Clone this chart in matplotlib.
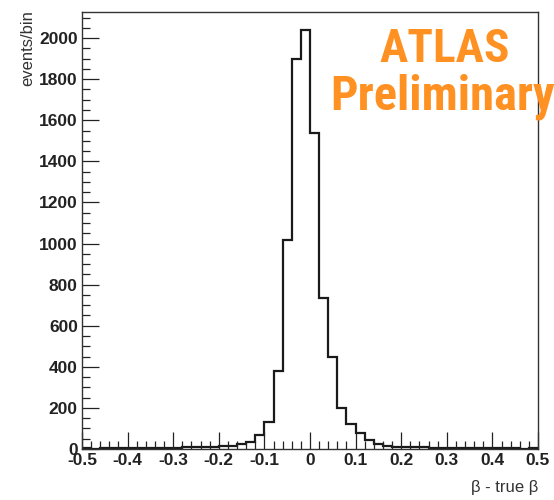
import numpy as np
import matplotlib
matplotlib.use("Agg")
import matplotlib.pyplot as plt
from matplotlib.ticker import MultipleLocator, FuncFormatter

# Residual distribution beta - true beta, 50 bins from -0.5 to 0.5
x_min, x_max, n_bins = -0.5, 0.5, 50
counts = [
    3, 2, 3, 4, 3, 5, 4, 5, 6, 7,
    6, 8, 9, 11, 10, 13, 17, 22, 34, 66,
    132, 381, 1018, 1897, 2038, 1537, 733, 450, 200, 120,
    77, 43, 25, 16, 12, 10, 8, 9, 7, 6,
    6, 5, 5, 4, 4, 3, 4, 3, 2, 3,
]
x_ticks = [-0.5, -0.4, -0.3, -0.2, -0.1, 0.0, 0.1, 0.2, 0.3, 0.4, 0.5]
x_tick_labels = ["-0.5", "-0.4", "-0.3", "-0.2", "-0.1", "0", "0.1", "0.2", "0.3", "0.4", "0.5"]
y_max = 2127

edges = np.linspace(x_min, x_max, n_bins + 1)

plt.rcParams['font.family'] = ['Liberation Sans', 'DejaVu Sans']

fig = plt.figure(figsize=(5.54, 5.00), dpi=100)
ax = fig.add_axes([82 / 554, 51 / 500, (538 - 82) / 554, (449 - 12) / 500])

ax.stairs(counts, edges, color="#1a1a1a", linewidth=1.6)

ax.set_xlim(x_min, x_max)
ax.set_ylim(0, y_max)

ax.set_xticks(x_ticks)
ax.set_xticklabels(x_tick_labels)
ax.xaxis.set_minor_locator(MultipleLocator(0.02))
ax.yaxis.set_major_locator(MultipleLocator(200))
ax.yaxis.set_minor_locator(MultipleLocator(50))
ax.yaxis.set_major_formatter(FuncFormatter(lambda v, p: f"{int(v)}"))

ax.tick_params(which="both", direction="in", top=False, right=False,
               colors="#222222", width=0.9)
ax.tick_params(which="major", length=12, labelsize=12.5, pad=3)
ax.tick_params(which="minor", length=6)
for lab in ax.get_xticklabels() + ax.get_yticklabels():
    lab.set_fontweight("bold")
    lab.set_color("#222222")

for sp in ax.spines.values():
    sp.set_linewidth(1.0)
    sp.set_color("#333333")

fig.text(538 / 554, 1 - 495 / 500, "\u03b2 - true \u03b2", ha="right", va="bottom",
         fontsize=12, color="#333333")
fig.text(20 / 554, 1 - 10 / 500, "events/bin", rotation=90, ha="left", va="top",
         fontsize=12, color="#333333")

orange = "#ff9022"
stamp_font = ["Roboto Condensed", "Roboto", "DejaVu Sans"]
fig.text(445 / 554, 1 - 62 / 500, "ATLAS", ha="center", va="baseline",
         fontsize=34, color=orange, fontweight="bold", family=stamp_font)
fig.text(330 / 554, 1 - 110 / 500, "Preliminary", ha="left", va="baseline",
         fontsize=35, color=orange, fontweight="bold", family=stamp_font)

fig.savefig("out.png", dpi=100)
